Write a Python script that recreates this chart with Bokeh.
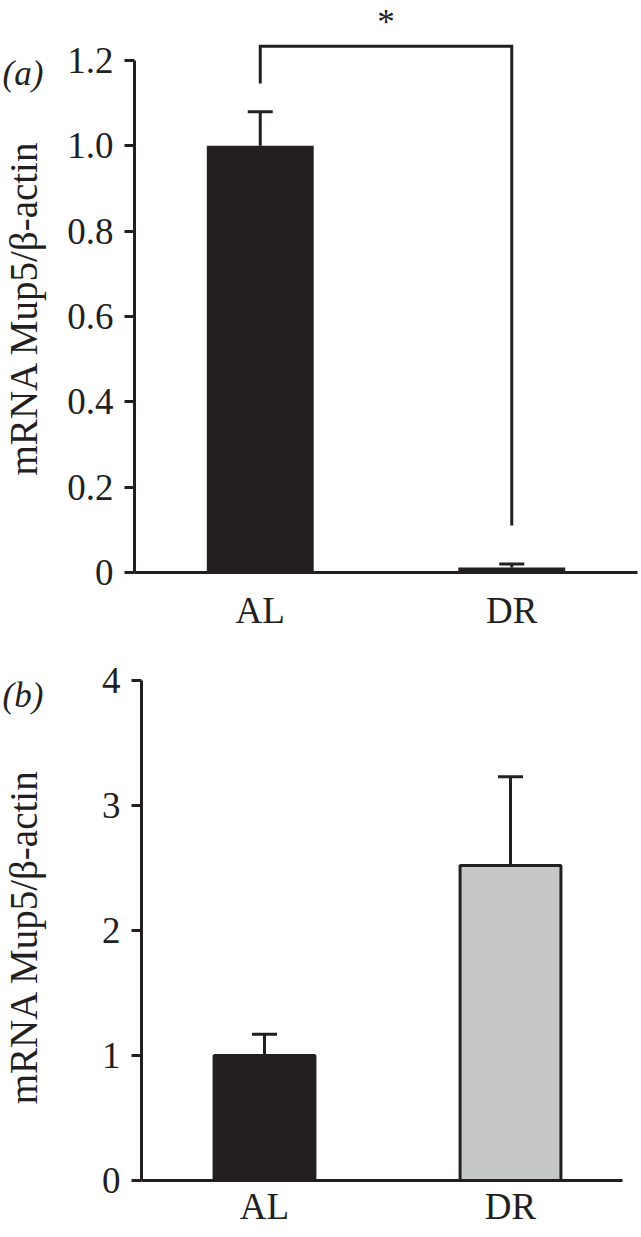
import math
from bokeh.plotting import figure
from bokeh.models import ColumnDataSource, FactorRange, Range1d, FixedTicker, Whisker, TeeHead, Label
from bokeh.layouts import column, row
from bokeh.core.properties import value
from bokeh.embed import file_html
from bokeh.resources import INLINE

# ---------------- data ----------------
categories = ["AL", "DR"]

a_values = [1.0, 0.012]
a_errors = [0.08, 0.008]
a_colors = ["#231f20", "#231f20"]
a_ticks = [0, 0.2, 0.4, 0.6, 0.8, 1.0, 1.2]
a_tick_labels = ["0", "0.2", "0.4", "0.6", "0.8", "1.0", "1.2"]

b_values = [1.0, 2.52]
b_errors = [0.17, 0.71]
b_colors = ["#231f20", "#c6c7c9"]
b_ticks = [0, 1, 2, 3, 4]
b_tick_labels = ["0", "1", "2", "3", "4"]

sig_bracket_top = 1.233
sig_left_end = 1.146
sig_right_end = 0.11
sig_text = "*"

y_label = "mRNA Mup5/β-actin"
panel_tags = ["(a)", "(b)"]

INK = "#231f20"
FONT = "Liberation Serif"
TICK_SIZE = "37px"
LABEL_SIZE = "39px"
SIDE_W = 56


def side_figure(y_range, height, top, bottom, tag, tag_y, label_y):
    f = figure(width=SIDE_W, height=height, x_range=Range1d(0, SIDE_W), y_range=y_range,
               output_backend="svg", toolbar_location=None,
               x_axis_location=None, y_axis_location=None,
               min_border_left=0, min_border_right=0,
               min_border_top=top, min_border_bottom=bottom)
    f.outline_line_color = None
    f.xgrid.visible = False
    f.ygrid.visible = False
    f.text(x=[23], y=[label_y], text=[y_label], angle=math.pi / 2,
           text_font=value(FONT), text_font_size=LABEL_SIZE, text_color=INK,
           text_align="center", text_baseline="middle")
    f.text(x=[2], y=[tag_y], text=[tag], text_font=value(FONT), text_font_size="35px",
           text_font_style="italic", text_color=INK, text_align="left",
           text_baseline="alphabetic")
    return f


def make_panel(values, errors, colors, ticks, tick_labels, y_range, y_bounds,
               width, height, borders, bar_width, bar_line, x_standoff, x_bounds=None):
    p = figure(width=width, height=height, x_range=FactorRange(factors=categories),
               y_range=y_range, output_backend="svg", toolbar_location=None,
               min_border_left=borders[0], min_border_right=borders[1],
               min_border_top=borders[2], min_border_bottom=borders[3])
    p.outline_line_color = None
    p.xgrid.visible = False
    p.ygrid.visible = False
    p.background_fill_color = "white"
    p.border_fill_color = "white"

    src = ColumnDataSource(dict(
        cats=categories, vals=values, upper=[v + e for v, e in zip(values, errors)],
        colors=colors))
    p.vbar(x="cats", top="vals", width=bar_width, source=src, fill_color="colors",
           line_color=INK, line_width=bar_line)
    wh = Whisker(base="cats", lower="vals", upper="upper", source=src,
                 line_color=INK, line_width=3, lower_head=None,
                 upper_head=TeeHead(size=25, line_width=3, line_color=INK))
    p.add_layout(wh)

    ya = p.yaxis[0]
    ya.ticker = FixedTicker(ticks=ticks)
    ya.major_label_overrides = {t: l for t, l in zip(ticks, tick_labels)}
    ya.bounds = y_bounds
    ya.axis_line_width = 3
    ya.axis_line_color = INK
    ya.major_tick_line_width = 3
    ya.major_tick_line_color = INK
    ya.major_tick_out = 10
    ya.major_tick_in = 0
    ya.minor_tick_line_color = None
    ya.major_label_text_font = FONT
    ya.major_label_text_font_size = TICK_SIZE
    ya.major_label_text_color = INK
    ya.major_label_standoff = 11

    xa = p.xaxis[0]
    xa.axis_line_width = 3
    xa.axis_line_color = INK
    xa.major_tick_line_color = None
    xa.major_tick_out = 0
    xa.major_tick_in = 0
    xa.minor_tick_line_color = None
    xa.major_label_text_font = FONT
    xa.major_label_text_font_size = TICK_SIZE
    xa.major_label_text_color = INK
    xa.major_label_standoff = x_standoff
    if x_bounds is not None:
        xa.bounds = x_bounds
    return p


# ---------- panel (a) ----------
yr_a = Range1d(0, 1.3405)
pa = make_panel(a_values, a_errors, a_colors, a_ticks, a_tick_labels, yr_a, (0, 1.2),
                width=641 - SIDE_W, height=640, borders=(134 - SIDE_W, 4, 0, 68),
                bar_width=0.425, bar_line=0, x_standoff=17)
pa.line(x=["AL", "AL", "DR", "DR"],
        y=[sig_left_end, sig_bracket_top, sig_bracket_top, sig_right_end],
        line_color=INK, line_width=3, line_join="miter")
pa.add_layout(Label(x=1.0, y=1.29, text=sig_text, text_font=FONT, text_font_size="35px",
                    text_color=INK, text_align="center", text_baseline="alphabetic"))
sa = side_figure(yr_a, 640, 0, 68, panel_tags[0], tag_y=1.169, label_y=0.62)

# ---------- panel (b) ----------
yr_b = Range1d(0, 4.16)
pb = make_panel(b_values, b_errors, b_colors, b_ticks, b_tick_labels, yr_b, (-0.056, 4),
                width=641 - SIDE_W, height=597, borders=(141 - SIDE_W, 8, 20, 57),
                bar_width=0.41, bar_line=3, x_standoff=5, x_bounds=(-0.045, 1.955))
sb = side_figure(yr_b, 597, 20, 57, panel_tags[1], tag_y=3.88, label_y=1.95)

layout = column(row(sa, pa, spacing=0), row(sb, pb, spacing=0), spacing=0)
open("out.html", "w").write(file_html(layout, INLINE))
